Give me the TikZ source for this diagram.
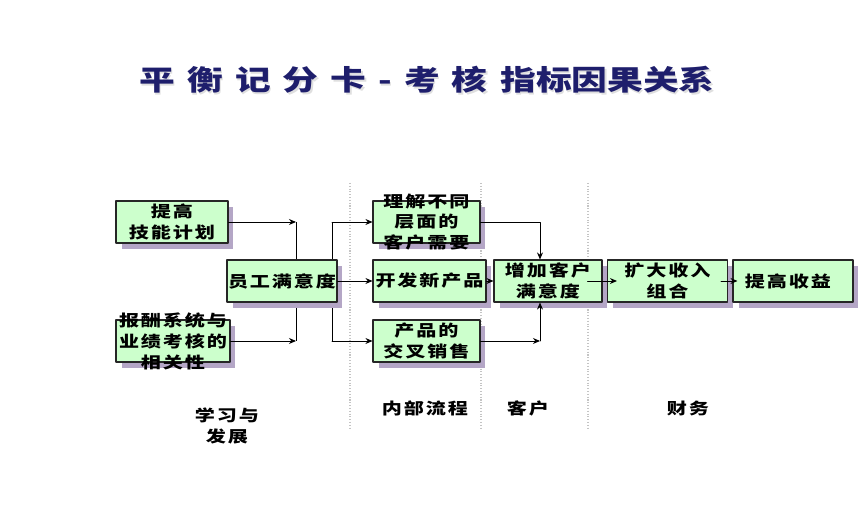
\documentclass[tikz,border=0pt]{standalone}
\usepackage{fontspec}
\usetikzlibrary{arrows.meta,shadows,backgrounds}

\newfontfamily\cjkbox[FakeStretch=1.27,LetterSpace=12]{Noto Sans CJK SC}
\newfontfamily\cjktitle[FakeStretch=1.27,LetterSpace=43]{Noto Sans CJK SC}
\newfontfamily\cjktight[FakeStretch=1.27]{Noto Sans CJK SC}

\definecolor{boxgreen}{HTML}{CCFFCC}
\definecolor{shadelilac}{HTML}{B4A6C6}
\definecolor{titlenavy}{HTML}{1E1E6C}
\definecolor{divgray}{HTML}{C4C4C4}

\begin{document}
\begin{tikzpicture}[
			x=0.02cm, y=-0.02cm,
			line cap=round,
			line join=round,
			box/.style={draw=black!85, line width=0.6pt, fill=boxgreen, minimum height=0.84cm, inner sep=0pt,
				drop shadow={shadow xshift=0.11cm, shadow yshift=-0.12cm, fill=shadelilac, opacity=1}},
			boxtext/.style={font=\cjkbox\bfseries\fontsize{9}{11.9}\selectfont, align=center, inner sep=0pt},
			lanetext/.style={font=\cjkbox\bfseries\fontsize{9}{12.5}\selectfont, align=center, inner sep=0pt},
			titletext/.style={font=\cjktitle\bfseries\fontsize{16}{19}\selectfont, inner sep=0pt},
			arr/.style={-{Stealth[length=4pt,width=3.4pt]}, line width=0.5pt},
			divider/.style={divgray, densely dotted, line width=0.6pt}
			]
			\useasboundingbox (0,0) rectangle (860,506);
			
			% title
			\node[titletext, text=gray!25] (titleshade) at (428.5,81.5) {平衡记分卡-考核\hspace{0.45em}{\cjktight 指标因果关系}};
			\node[titletext, text=titlenavy] (title) at (427,80) {平衡记分卡-考核\hspace{0.45em}{\cjktight 指标因果关系}};
			
			% learning and growth
			\node[box, minimum width=2.24cm, label={[boxtext]center:提高\\技能计划}] (tg) at (172,222) {};
			\node[box, minimum width=2.28cm, label={[boxtext]center:报酬系统与\\业绩考核的\\相关性}] (bc) at (173,341) {};
			\node[box, minimum width=2.2cm, label={[boxtext]center:员工满意度}] (yg) at (282,281) {};
			
			% internal process
			\node[box, minimum width=2.14cm, label={[boxtext]center:理解不同\\层面的\\客户需要}] (lj) at (426.5,222) {};
			\node[box, minimum width=2.26cm, label={[boxtext]center:开发新产品}] (kf) at (429.5,281) {};
			\node[box, minimum width=2.14cm, label={[boxtext]center:产品的\\交叉销售}] (cp) at (426.5,341) {};
			
			% customer and finance
			\node[box, minimum width=2.16cm, label={[boxtext]center:增加客户\\满意度}] (zj) at (548,281) {};
			\node[box, minimum width=2.4cm, label={[boxtext]center:扩大收入\\组合}] (kd) at (667.5,281) {};
			\node[box, minimum width=2.4cm, label={[boxtext, xshift=-0.1cm]center:提高收益}] (tsy) at (793,281) {};
			
			\coordinate (ja) at (296,281);
			\coordinate (jb) at (332,281);
			\coordinate (zt) at ([xshift=-0.16cm]zj.north);
			\coordinate (zb) at ([xshift=-0.16cm]zj.south);
			
			\begin{scope}[on background layer]
				\foreach \x in {350,481,588}
				{
					\draw[divider] (\x,183) -- (\x,428);
				}
				\draw[line width=0.5pt] (ja |- tg.east) -- (ja |- bc.east);
				\draw[line width=0.5pt] (jb |- lj.west) -- (jb |- cp.west);
			\end{scope}
			
			\draw[arr] (tg.east) -- (tg.east -| ja);
			\draw[arr] (bc.east) -- (bc.east -| ja);
			\draw[arr] (yg.east) -- (kf.west);
			\draw[arr] (jb |- lj.west) -- (lj.west);
			\draw[arr] (jb |- cp.west) -- (cp.west);
			
			\draw[arr] (lj.east) -| (zt);
			\draw[arr] (cp.east) -- (cp.east -| zb);
			\draw[arr] (cp.east -| zb) -- (zb);
			\draw[arr] (kf.east) -- (zj.west);
			\draw[arr] ([xshift=-0.3cm]zj.east) -- ([xshift=0.2cm]kd.west);
			\draw[arr] ([xshift=-0.14cm]kd.east) -- ([xshift=0.1cm]tsy.west);
			
			% perspective labels
			\node[lanetext] (xx) at (227,426) {学习与\\发展};
			\node[lanetext] (nb) at (425,408) {内部流程};
			\node[lanetext] (kh) at (528,408) {客户};
			\node[lanetext] (cw) at (688,408) {财务};
		\end{tikzpicture}
\end{document}
